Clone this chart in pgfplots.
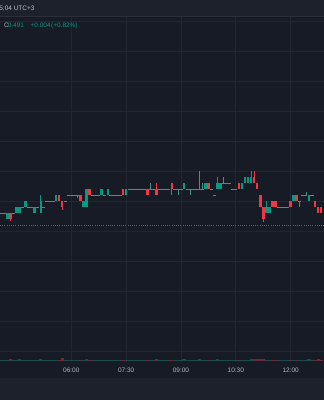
\documentclass[border=0pt]{standalone}
\usepackage{pgfplots}
\pgfplotsset{compat=1.18}
\usepackage{pgfplotstable}
\usepackage{fontspec}
\setmainfont{Liberation Sans}
\definecolor{bgc}{HTML}{171B26}
\definecolor{hdrc}{HTML}{1D212C}
\definecolor{sepc}{HTML}{2A2E39}
\definecolor{gridc}{HTML}{222632}
\definecolor{labc}{HTML}{B2B5BE}
\definecolor{upc}{HTML}{089981}
\definecolor{dnc}{HTML}{F23645}
\definecolor{dojic}{HTML}{4A9086}
\definecolor{volup}{HTML}{1B4B4A}
\definecolor{voldn}{HTML}{6E2A38}

% time in minutes since 00:00, prices
\pgfplotstableread{
t o h l c
255 0.492 0.493 0.492 0.493
270 0.493 0.494 0.493 0.494
275 0.493 0.494 0.493 0.494
285 0.494 0.495 0.494 0.495
300 0.493 0.494 0.493 0.494
310 0.493 0.496 0.493 0.495
335 0.495 0.496 0.495 0.496
380 0.494 0.495 0.494 0.495
385 0.494 0.497 0.494 0.497
410 0.496 0.497 0.496 0.497
420 0.496 0.497 0.496 0.497
450 0.496 0.497 0.496 0.497
545 0.497 0.498 0.497 0.498
580 0.497 0.498 0.497 0.498
600 0.497 0.499 0.497 0.498
605 0.497 0.498 0.497 0.498
640 0.497 0.498 0.497 0.498
645 0.498 0.499 0.498 0.499
650 0.498 0.499 0.498 0.499
655 0.498 0.500 0.498 0.499
680 0.493 0.495 0.493 0.494
685 0.493 0.494 0.493 0.494
725 0.495 0.496 0.495 0.496
750 0.495 0.496 0.495 0.496
}\upT

\pgfplotstableread{
t o h l c
260 0.493 0.493 0.4917 0.492
340 0.496 0.496 0.495 0.495
345 0.495 0.495 0.4935 0.494
375 0.496 0.496 0.495 0.495
390 0.497 0.497 0.496 0.496
445 0.497 0.497 0.496 0.496
485 0.497 0.497 0.496 0.496
500 0.497 0.498 0.496 0.496
525 0.498 0.498 0.496 0.497
585 0.498 0.498 0.497 0.497
635 0.498 0.498 0.497 0.497
660 0.499 0.500 0.498 0.498
665 0.498 0.498 0.497 0.497
670 0.496 0.496 0.494 0.494
675 0.494 0.494 0.4915 0.492
690 0.495 0.495 0.494 0.494
695 0.495 0.495 0.494 0.494
720 0.495 0.495 0.494 0.494
730 0.496 0.496 0.495 0.495
760 0.495 0.495 0.494 0.494
765 0.494 0.494 0.493 0.493
770 0.494 0.494 0.493 0.493
}\dnT

\pgfplotstableread{
t o h l c
245 0.493 0.493 0.493 0.493
250 0.493 0.493 0.493 0.493
265 0.493 0.493 0.493 0.493
280 0.494 0.494 0.494 0.494
290 0.494 0.494 0.494 0.494
295 0.494 0.494 0.494 0.494
305 0.494 0.494 0.494 0.494
315 0.494 0.494 0.494 0.494
320 0.495 0.495 0.495 0.495
325 0.495 0.495 0.495 0.495
330 0.495 0.495 0.495 0.495
350 0.495 0.495 0.495 0.495
355 0.496 0.496 0.496 0.496
360 0.496 0.496 0.496 0.496
365 0.496 0.496 0.496 0.496
370 0.496 0.496 0.4955 0.496
395 0.496 0.496 0.496 0.496
400 0.496 0.496 0.496 0.496
405 0.496 0.496 0.496 0.496
415 0.496 0.496 0.496 0.496
425 0.496 0.496 0.496 0.496
430 0.496 0.496 0.496 0.496
435 0.496 0.496 0.496 0.496
440 0.496 0.496 0.496 0.496
455 0.497 0.497 0.497 0.497
460 0.497 0.497 0.497 0.497
465 0.497 0.497 0.497 0.497
470 0.497 0.497 0.497 0.497
475 0.497 0.497 0.497 0.497
480 0.497 0.497 0.497 0.497
490 0.497 0.498 0.497 0.497
495 0.497 0.497 0.497 0.497
505 0.497 0.497 0.497 0.497
510 0.497 0.497 0.497 0.497
515 0.497 0.497 0.497 0.497
520 0.497 0.497 0.497 0.497
530 0.497 0.497 0.497 0.497
535 0.497 0.497 0.496 0.497
540 0.497 0.497 0.497 0.497
550 0.497 0.497 0.497 0.497
555 0.497 0.497 0.496 0.497
560 0.497 0.497 0.497 0.497
565 0.497 0.497 0.497 0.497
570 0.497 0.500 0.497 0.497
575 0.497 0.498 0.497 0.497
590 0.497 0.497 0.497 0.497
595 0.496 0.496 0.496 0.496
610 0.498 0.499 0.498 0.498
615 0.498 0.498 0.498 0.498
620 0.498 0.498 0.498 0.498
625 0.497 0.497 0.497 0.497
630 0.497 0.497 0.497 0.497
700 0.494 0.494 0.494 0.494
705 0.494 0.494 0.494 0.494
710 0.494 0.494 0.494 0.494
715 0.494 0.494 0.494 0.494
735 0.495 0.495 0.494 0.495
740 0.496 0.496 0.496 0.496
745 0.496 0.4965 0.496 0.496
755 0.496 0.496 0.496 0.496
}\dojiT

% volume (relative, bottom pane)
\pgfplotstableread{
t v
245 1
250 1
255 1
265 1
270 1
275 1.5
280 1
285 1
290 1
295 1
300 1
305 1
310 2
315 1
320 1
325 1
330 1
335 1
350 1
355 1
360 1
365 1
370 1
380 1
385 1.5
395 1
400 1
405 1
410 1
415 1
420 1
425 1
430 1
435 1
440 1
450 1
455 1
460 1
465 1
470 1
475 1
480 1
490 1
495 1
505 1
510 1
515 1
520 1
530 1
535 1
540 1
545 1.5
550 1
555 1
560 1
565 1
570 1.5
575 1
580 1
590 1
595 1
600 1.5
605 1
610 1
615 1
620 1
625 1
630 1
640 1
645 1
650 1
655 1.5
680 1
685 1
700 1
705 1
710 1
715 1
725 1
735 1
740 1
745 1
750 2
755 1
}\volUp

\pgfplotstableread{
t v
260 1.5
340 1
345 3
375 1
390 1
445 1
485 1
500 1.5
525 1
585 1
635 1
660 1.5
665 1.5
670 2
675 1.5
690 1
695 1
720 1
730 1
760 1
765 1.5
770 1
}\volDn

\pgfplotsset{
  candle/.style 2 args={draw=none, mark=none, forget plot,
    error bars/.cd, y dir=both, y explicit, error mark=none,
    error bar style={draw=#1, line width=#2, solid}},
}

\begin{document}
\begin{tikzpicture}[x=1bp,y=1bp]
\fill[bgc] (0,0) rectangle (324,400);
\fill[hdrc] (0,384) rectangle (324,400);
\draw[sepc, line width=0.8bp] (0,383.6) -- (324,383.6);
\fill[hdrc] (0,0) rectangle (324,22);

\begin{axis}[
  at={(0bp,38bp)}, anchor=south west,
  width=324bp, height=345bp, scale only axis,
  xmin=243.0, xmax=774.7,
  ymin=0.468167, ymax=0.525667,
  axis line style={draw=none},
  major tick length=0pt,
  xtick={360,450,540,630,720},
  xticklabels={06:00,07:30,09:00,10:30,12:00},
  ytick={0.470,0.475,0.480,0.485,0.490,0.495,0.500,0.505,0.510,0.515,0.520,0.525},
  yticklabels={},
  grid=major,
  grid style={draw=gridc, line width=0.8bp},
  xticklabel style={font=\fontsize{6.5}{7}\selectfont, text=labc, yshift=-2.5bp},
  clip=true,
]
% current price line
\addplot[upc!85!bgc, line width=0.8bp, dash pattern=on 1bp off 1.2bp] coordinates {(243,0.491) (774.7,0.491)};
% wicks
\addplot[candle={upc}{0.8bp}]
  table[x=t, y expr={(\thisrow{h}+\thisrow{l})/2}, y error expr={(\thisrow{h}-\thisrow{l})/2}] {\upT};
\addplot[candle={dnc}{0.8bp}]
  table[x=t, y expr={(\thisrow{h}+\thisrow{l})/2}, y error expr={(\thisrow{h}-\thisrow{l})/2}] {\dnT};
\addplot[candle={dojic}{0.8bp}]
  table[x=t, y expr={(\thisrow{h}+\thisrow{l})/2}, y error expr={(\thisrow{h}-\thisrow{l})/2}] {\dojiT};
% bodies
\addplot[candle={upc}{2.6bp}]
  table[x=t, y expr={(\thisrow{o}+\thisrow{c})/2}, y error expr={abs(\thisrow{o}-\thisrow{c})/2}] {\upT};
\addplot[candle={dnc}{2.6bp}]
  table[x=t, y expr={(\thisrow{o}+\thisrow{c})/2}, y error expr={abs(\thisrow{o}-\thisrow{c})/2}] {\dnT};
\addplot[candle={dojic}{3.1bp}]
  table[x=t, y expr={\thisrow{o}}, y error expr={0.00008}] {\dojiT};
\end{axis}

\begin{axis}[
  at={(0bp,38bp)}, anchor=south west,
  width=324bp, height=345bp, scale only axis,
  xmin=243.0, xmax=774.7, ymin=-1, ymax=344,
  axis lines=none, ticks=none, clip=true,
]
\addplot[ycomb, draw=volup, line width=3.1bp, mark=none] table[x=t, y=v] {\volUp};
\addplot[ycomb, draw=voldn, line width=3.1bp, mark=none] table[x=t, y=v] {\volDn};
\end{axis}

\node[anchor=west, inner sep=0, font=\fontsize{6.5}{7}\selectfont, text=labc!80!white] at (-0.8,392) {5:04 UTC+3};
\node[anchor=base west, inner sep=0, font=\fontsize{6.5}{7}\selectfont, text=labc] at (4,372.4) {C};
\node[anchor=base west, inner sep=0, font=\fontsize{6.5}{7}\selectfont, text=upc] at (7.6,372.4) {0.491};
\node[anchor=base west, inner sep=0, font=\fontsize{6.5}{7}\selectfont, text=upc] at (30.5,372.4) {+0.004};
\node[anchor=base west, inner sep=0, font=\fontsize{6.5}{7}\selectfont, text=upc] at (51,372.4) {(+0.82\%)};
\pgfresetboundingbox
\path (0,0) rectangle (324,400);
\end{tikzpicture}
\end{document}
